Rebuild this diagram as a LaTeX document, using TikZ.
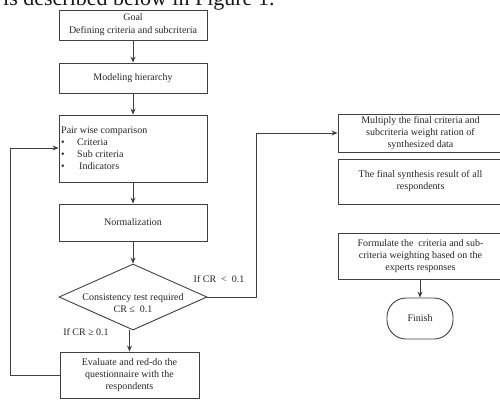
\documentclass[tikz,border=0pt]{standalone}
\usepackage{fontspec}
\setmainfont{Liberation Serif}
\usetikzlibrary{arrows.meta,shapes.geometric}
\begin{document}
\begin{tikzpicture}[x=1pt,y=-1pt,
  box/.style={draw=black!75,line width=0.9pt,rectangle,inner sep=0pt,font=\fontsize{10}{12}\selectfont,text=black!85,align=center},
  txt/.style={inner sep=0pt,font=\fontsize{10}{12}\selectfont,text=black!85},
  conn/.style={draw=black!75,line width=0.9pt,-{Stealth[length=6pt,width=5pt]}},
  plain/.style={draw=black!75,line width=0.9pt}]
\useasboundingbox (0,0) rectangle (500,399);
\clip (0,0) rectangle (500,399);
\node[anchor=base west,inner sep=0pt,font=\fontsize{22}{26}\selectfont,text=black!90] (top) at (3,5) {is described below in Figure 1.};
\node[box,minimum width=148pt,minimum height=30pt] (goal) at (133,25) {Goal\\[1pt]Defining criteria and subcriteria};
\node[box,minimum width=148pt,minimum height=30pt] (model) at (133,78) {Modeling hierarchy};
\node[box,minimum width=148pt,minimum height=67pt] (pair) at (133,148.5) {};
\node[txt,anchor=west,align=left] (pairtxt) at (61,148) {Pair wise comparison\\
\makebox[16pt][l]{\textbullet}Criteria\\
\makebox[16pt][l]{\textbullet}Sub criteria\\
\makebox[18pt][l]{\textbullet}Indicators};
\node[box,minimum width=148pt,minimum height=37pt] (norm) at (133,222.5) {Normalization};
\node[draw=black!75,line width=0.9pt,diamond,minimum width=148pt,minimum height=66pt,inner sep=0pt,aspect=2.24] (dia) at (133,297) {};
\node[txt,align=center] (diatxt) at (133,303) {Consistency test required\\CR ≤\ \ 0.1};
\node[box,minimum width=139pt,minimum height=46pt] (eval) at (129.5,375) {Evaluate and red-do the\\questionnaire with the\\respondents};
\node[txt] (lt) at (219,279) {If CR\ \ <\ \ 0.1};
\node[txt] (ge) at (86,332) {If CR ≥ 0.1};
\node[box,minimum width=165pt,minimum height=38pt] (mult) at (420.5,133) {Multiply the final criteria and\\subcriteria weight ration of\\synthesized data};
\node[box,minimum width=165pt,minimum height=45pt] (synth) at (420.5,181.5) {The final synthesis result of all\\respondents};
\node[box,minimum width=165pt,minimum height=46pt] (form) at (420.5,256) {Formulate the\ \ criteria and sub-\\criteria weighting based on the\\experts responses};
\node[box,rounded corners=19pt,minimum width=66pt,minimum height=41pt] (fin) at (420,318.5) {Finish};
\coordinate (ctop) at (256,133);
\coordinate (cright) at (256,297);
\coordinate (lbot) at (10,375);
\coordinate (ltop) at (10,148);
\draw[conn] (goal) -- (model);
\draw[conn] (model) -- (pair);
\draw[conn] (pair) -- (norm);
\draw[conn] (norm) -- (dia.north);
\draw[conn] (dia.south -| eval.north) -- (eval.north);
\draw[conn] (dia.east) -- (cright) -- (ctop) -- (mult.west);
\draw[conn] (eval.west) -- (lbot) -- (ltop) -- (pair.west |- ltop);
\draw[conn] (form.south -| fin.north) -- (fin.north);
\end{tikzpicture}
\end{document}
